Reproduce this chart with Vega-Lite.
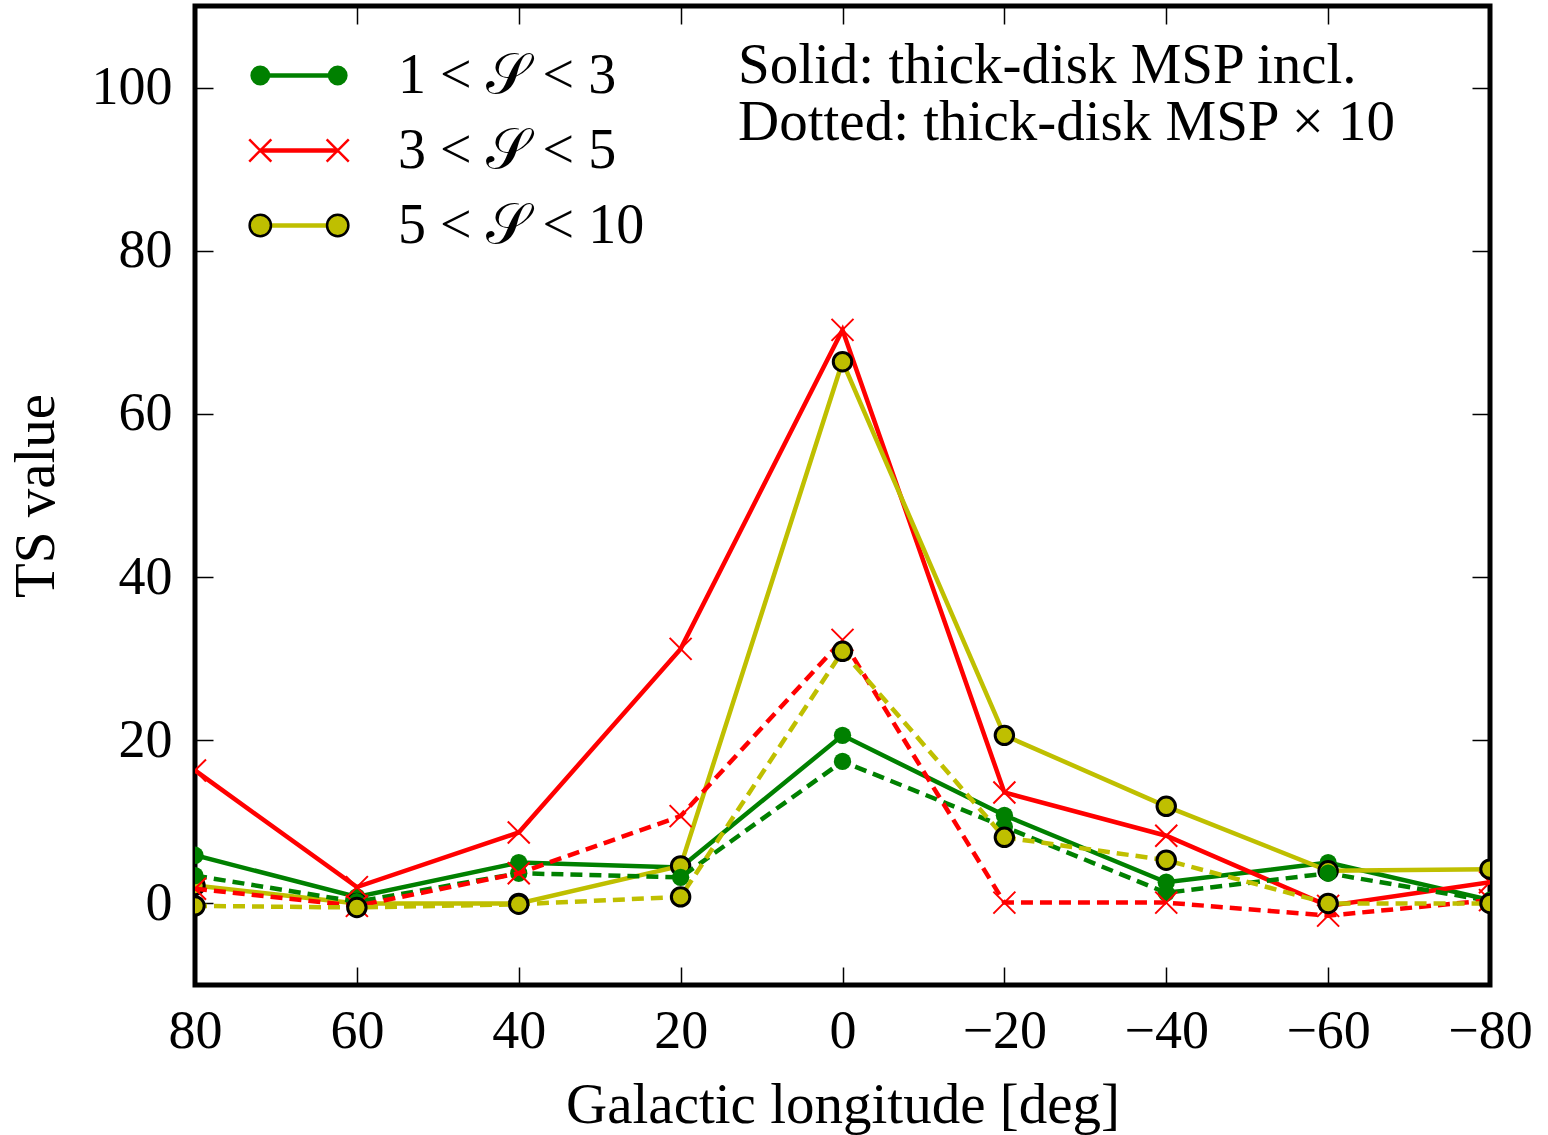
{
  "$schema": "https://vega.github.io/schema/vega-lite/v6.json",
  "width": 1295,
  "height": 979,
  "autosize": {"type": "none"},
  "padding": {"left": 195, "top": 6, "right": 58, "bottom": 150},
  "background": "white",
  "title": {"text": ["Solid: thick-disk MSP incl.", "Dotted: thick-disk MSP × 10"], "orient": "top", "anchor": "start", "frame": "group", "align": "left", "baseline": "top", "offset": 0, "dx": 543, "dy": 147, "font": "Liberation Serif", "fontSize": 57, "fontWeight": "normal", "lineHeight": 57, "color": "black"},
  "config": {
    "view": {"stroke": "black", "strokeWidth": 5},
    "font": "Liberation Serif",
    "axis": {"grid": false, "domain": false, "tickColor": "black", "tickWidth": 1.5, "tickSize": -18, "labelFont": "Liberation Serif", "labelFontSize": 54, "labelColor": "black", "titleFont": "Liberation Serif", "titleFontSize": 57, "titleFontWeight": "normal", "titleColor": "black", "labelFlush": false, "labelOverlap": false}
  },
  "data": {"values": [
    {"lon": 80, "ts": 5.9, "series": "1 < 𝒮 < 3", "kind": "solid"},
    {"lon": 60, "ts": 0.8, "series": "1 < 𝒮 < 3", "kind": "solid"},
    {"lon": 40, "ts": 5.0, "series": "1 < 𝒮 < 3", "kind": "solid"},
    {"lon": 20, "ts": 4.4, "series": "1 < 𝒮 < 3", "kind": "solid"},
    {"lon": 0, "ts": 20.6, "series": "1 < 𝒮 < 3", "kind": "solid"},
    {"lon": -20, "ts": 10.8, "series": "1 < 𝒮 < 3", "kind": "solid"},
    {"lon": -40, "ts": 2.6, "series": "1 < 𝒮 < 3", "kind": "solid"},
    {"lon": -60, "ts": 5.0, "series": "1 < 𝒮 < 3", "kind": "solid"},
    {"lon": -80, "ts": 0.4, "series": "1 < 𝒮 < 3", "kind": "solid"},
    {"lon": 80, "ts": 16.3, "series": "3 < 𝒮 < 5", "kind": "solid"},
    {"lon": 60, "ts": 2.0, "series": "3 < 𝒮 < 5", "kind": "solid"},
    {"lon": 40, "ts": 8.7, "series": "3 < 𝒮 < 5", "kind": "solid"},
    {"lon": 20, "ts": 31.2, "series": "3 < 𝒮 < 5", "kind": "solid"},
    {"lon": 0, "ts": 70.3, "series": "3 < 𝒮 < 5", "kind": "solid"},
    {"lon": -20, "ts": 13.6, "series": "3 < 𝒮 < 5", "kind": "solid"},
    {"lon": -40, "ts": 8.3, "series": "3 < 𝒮 < 5", "kind": "solid"},
    {"lon": -60, "ts": -0.3, "series": "3 < 𝒮 < 5", "kind": "solid"},
    {"lon": -80, "ts": 2.6, "series": "3 < 𝒮 < 5", "kind": "solid"},
    {"lon": 80, "ts": 2.2, "series": "5 < 𝒮 < 10", "kind": "solid"},
    {"lon": 60, "ts": 0.0, "series": "5 < 𝒮 < 10", "kind": "solid"},
    {"lon": 40, "ts": 0.0, "series": "5 < 𝒮 < 10", "kind": "solid"},
    {"lon": 20, "ts": 4.6, "series": "5 < 𝒮 < 10", "kind": "solid"},
    {"lon": 0, "ts": 66.4, "series": "5 < 𝒮 < 10", "kind": "solid"},
    {"lon": -20, "ts": 20.6, "series": "5 < 𝒮 < 10", "kind": "solid"},
    {"lon": -40, "ts": 11.9, "series": "5 < 𝒮 < 10", "kind": "solid"},
    {"lon": -60, "ts": 4.0, "series": "5 < 𝒮 < 10", "kind": "solid"},
    {"lon": -80, "ts": 4.2, "series": "5 < 𝒮 < 10", "kind": "solid"},
    {"lon": 80, "ts": 3.4, "series": "1 < 𝒮 < 3", "kind": "dotted"},
    {"lon": 60, "ts": 0.2, "series": "1 < 𝒮 < 3", "kind": "dotted"},
    {"lon": 40, "ts": 3.7, "series": "1 < 𝒮 < 3", "kind": "dotted"},
    {"lon": 20, "ts": 3.2, "series": "1 < 𝒮 < 3", "kind": "dotted"},
    {"lon": 0, "ts": 17.4, "series": "1 < 𝒮 < 3", "kind": "dotted"},
    {"lon": -20, "ts": 9.4, "series": "1 < 𝒮 < 3", "kind": "dotted"},
    {"lon": -40, "ts": 1.3, "series": "1 < 𝒮 < 3", "kind": "dotted"},
    {"lon": -60, "ts": 3.7, "series": "1 < 𝒮 < 3", "kind": "dotted"},
    {"lon": -80, "ts": 0.3, "series": "1 < 𝒮 < 3", "kind": "dotted"},
    {"lon": 80, "ts": 1.8, "series": "3 < 𝒮 < 5", "kind": "dotted"},
    {"lon": 60, "ts": -0.3, "series": "3 < 𝒮 < 5", "kind": "dotted"},
    {"lon": 40, "ts": 3.7, "series": "3 < 𝒮 < 5", "kind": "dotted"},
    {"lon": 20, "ts": 10.7, "series": "3 < 𝒮 < 5", "kind": "dotted"},
    {"lon": 0, "ts": 32.3, "series": "3 < 𝒮 < 5", "kind": "dotted"},
    {"lon": -20, "ts": 0.1, "series": "3 < 𝒮 < 5", "kind": "dotted"},
    {"lon": -40, "ts": 0.1, "series": "3 < 𝒮 < 5", "kind": "dotted"},
    {"lon": -60, "ts": -1.5, "series": "3 < 𝒮 < 5", "kind": "dotted"},
    {"lon": -80, "ts": 0.4, "series": "3 < 𝒮 < 5", "kind": "dotted"},
    {"lon": 80, "ts": -0.3, "series": "5 < 𝒮 < 10", "kind": "dotted"},
    {"lon": 60, "ts": -0.5, "series": "5 < 𝒮 < 10", "kind": "dotted"},
    {"lon": 40, "ts": -0.1, "series": "5 < 𝒮 < 10", "kind": "dotted"},
    {"lon": 20, "ts": 0.8, "series": "5 < 𝒮 < 10", "kind": "dotted"},
    {"lon": 0, "ts": 30.9, "series": "5 < 𝒮 < 10", "kind": "dotted"},
    {"lon": -20, "ts": 8.1, "series": "5 < 𝒮 < 10", "kind": "dotted"},
    {"lon": -40, "ts": 5.3, "series": "5 < 𝒮 < 10", "kind": "dotted"},
    {"lon": -60, "ts": 0.0, "series": "5 < 𝒮 < 10", "kind": "dotted"},
    {"lon": -80, "ts": 0.0, "series": "5 < 𝒮 < 10", "kind": "dotted"}
  ]},
  "encoding": {
    "x": {"field": "lon", "type": "quantitative", "scale": {"domain": [-80, 80], "reverse": true, "nice": false, "zero": false}, "axis": null},
    "y": {"field": "ts", "type": "quantitative", "scale": {"domain": [-10, 110], "nice": false, "zero": false}, "axis": null}
  },
  "resolve": {"axis": {"x": "independent", "y": "independent"}},
  "layer": [
    {
      "mark": {"type": "point", "opacity": 0},
      "encoding": {
        "x": {"field": "lon", "type": "quantitative", "scale": {"domain": [-80, 80], "reverse": true, "nice": false, "zero": false},
              "axis": {"orient": "bottom", "values": [80, 60, 40, 20, 0, -20, -40, -60, -80], "labelBaseline": "alphabetic", "labelPadding": 80, "title": "Galactic longitude [deg]", "titleY": 137, "titleBaseline": "alphabetic"}},
        "y": {"field": "ts", "type": "quantitative", "scale": {"domain": [-10, 110], "nice": false, "zero": false},
              "axis": {"orient": "left", "values": [0, 20, 40, 60, 80, 100], "labelBaseline": "middle", "labelPadding": 41, "title": "TS value", "titleX": -142, "titleY": 489.5, "titleAngle": -90, "titleBaseline": "alphabetic"}}
      }
    },
    {
      "mark": {"type": "point", "opacity": 0},
      "encoding": {
        "x": {"field": "lon", "type": "quantitative", "scale": {"domain": [-80, 80], "reverse": true, "nice": false, "zero": false},
              "axis": {"orient": "top", "values": [80, 60, 40, 20, 0, -20, -40, -60, -80], "labels": false, "title": null}},
        "y": {"field": "ts", "type": "quantitative", "scale": {"domain": [-10, 110], "nice": false, "zero": false},
              "axis": {"orient": "right", "values": [0, 20, 40, 60, 80, 100], "labels": false, "title": null}}
      }
    },
    {
      "transform": [{"filter": {"field": "series", "equal": "1 < 𝒮 < 3"}}, {"filter": {"field": "kind", "equal": "solid"}}],
      "layer": [
        {"mark": {"type": "line", "strokeWidth": 4.5, "clip": true},
         "encoding": {"color": {"field": "series", "type": "nominal", "scale": {"range": ["#008000", "#ff0000", "#bfbf00"]},
           "legend": {"orient": "none", "legendX": 63, "legendY": 28.5, "title": null, "symbolType": "stroke", "symbolSize": 5929, "symbolStrokeWidth": 4.5, "labelFont": "Liberation Serif", "labelFontSize": 56, "labelColor": "black", "labelOffset": 58, "labelLimit": 600, "padding": 0, "rowPadding": 6}}}},
        {"mark": {"type": "point", "filled": true, "fill": "#008000", "strokeWidth": 0, "size": 300, "opacity": 1, "clip": true}}
      ]
    },
    {
      "transform": [{"filter": {"field": "series", "equal": "3 < 𝒮 < 5"}}, {"filter": {"field": "kind", "equal": "solid"}}],
      "layer": [
        {"mark": {"type": "line", "strokeWidth": 4.5, "clip": true},
         "encoding": {"color": {"field": "series", "type": "nominal", "scale": {"range": ["#008000", "#ff0000", "#bfbf00"]}}}},
        {"mark": {"type": "point", "shape": "M-1,-1L1,1M-1,1L1,-1", "filled": false, "stroke": "#ff0000", "strokeWidth": 2, "size": 484, "opacity": 1, "clip": true}}
      ]
    },
    {
      "transform": [{"filter": {"field": "series", "equal": "5 < 𝒮 < 10"}}, {"filter": {"field": "kind", "equal": "solid"}}],
      "layer": [
        {"mark": {"type": "line", "strokeWidth": 4.5, "clip": true},
         "encoding": {"color": {"field": "series", "type": "nominal", "scale": {"range": ["#008000", "#ff0000", "#bfbf00"]}}}},
        {"mark": {"type": "point", "filled": true, "fill": "#bfbf00", "stroke": "black", "strokeWidth": 3, "size": 340, "opacity": 1, "clip": true}}
      ]
    },
    {
      "transform": [{"filter": {"field": "series", "equal": "1 < 𝒮 < 3"}}, {"filter": {"field": "kind", "equal": "dotted"}}],
      "layer": [
        {"mark": {"type": "line", "strokeWidth": 4.5, "strokeDash": [12, 7], "clip": true},
         "encoding": {"color": {"field": "series", "type": "nominal", "scale": {"range": ["#008000", "#ff0000", "#bfbf00"]}}}},
        {"mark": {"type": "point", "filled": true, "fill": "#008000", "strokeWidth": 0, "size": 300, "opacity": 1, "clip": true}}
      ]
    },
    {
      "transform": [{"filter": {"field": "series", "equal": "3 < 𝒮 < 5"}}, {"filter": {"field": "kind", "equal": "dotted"}}],
      "layer": [
        {"mark": {"type": "line", "strokeWidth": 4.5, "strokeDash": [12, 7], "clip": true},
         "encoding": {"color": {"field": "series", "type": "nominal", "scale": {"range": ["#008000", "#ff0000", "#bfbf00"]}}}},
        {"mark": {"type": "point", "shape": "M-1,-1L1,1M-1,1L1,-1", "filled": false, "stroke": "#ff0000", "strokeWidth": 2, "size": 484, "opacity": 1, "clip": true}}
      ]
    },
    {
      "transform": [{"filter": {"field": "series", "equal": "5 < 𝒮 < 10"}}, {"filter": {"field": "kind", "equal": "dotted"}}],
      "layer": [
        {"mark": {"type": "line", "strokeWidth": 4.5, "strokeDash": [12, 7], "clip": true},
         "encoding": {"color": {"field": "series", "type": "nominal", "scale": {"range": ["#008000", "#ff0000", "#bfbf00"]}}}},
        {"mark": {"type": "point", "filled": true, "fill": "#bfbf00", "stroke": "black", "strokeWidth": 3, "size": 340, "opacity": 1, "clip": true}}
      ]
    },
    {
      "transform": [{"filter": {"field": "ts", "gt": 1000}}],
      "mark": {"type": "point", "filled": true, "opacity": 1},
      "encoding": {
        "shape": {"field": "series", "type": "nominal",
          "scale": {"domain": ["1 < 𝒮 < 3", "3 < 𝒮 < 5", "5 < 𝒮 < 10"], "range": [
            "M-1.2,0A0.22,0.22 0 1,0 -0.76,0A0.22,0.22 0 1,0 -1.2,0ZM0.76,0A0.22,0.22 0 1,0 1.2,0A0.22,0.22 0 1,0 0.76,0Z",
            "M-1.26,-0.28L-0.7,0.28M-1.26,0.28L-0.7,-0.28M0.7,-0.28L1.26,0.28M0.7,0.28L1.26,-0.28",
            "M-1.25,0A0.27,0.27 0 1,0 -0.71,0A0.27,0.27 0 1,0 -1.25,0ZM0.71,0A0.27,0.27 0 1,0 1.25,0A0.27,0.27 0 1,0 0.71,0Z"]},
          "legend": {"orient": "none", "legendX": 63, "legendY": 28.5, "title": null, "symbolSize": 6241, "symbolStrokeWidth": 2.5, "labelFont": "Liberation Serif", "labelFontSize": 56, "labelColor": "rgba(0,0,0,0)", "labelOffset": 58, "labelLimit": 600, "padding": 0, "rowPadding": 6}},
        "fill": {"field": "series", "type": "nominal",
          "scale": {"domain": ["1 < 𝒮 < 3", "3 < 𝒮 < 5", "5 < 𝒮 < 10"], "range": ["#008000", "rgba(0,0,0,0)", "#bfbf00"]},
          "legend": {"orient": "none", "legendX": 63, "legendY": 28.5, "title": null, "symbolSize": 6241, "symbolStrokeWidth": 2.5, "labelFont": "Liberation Serif", "labelFontSize": 56, "labelColor": "rgba(0,0,0,0)", "labelOffset": 58, "labelLimit": 600, "padding": 0, "rowPadding": 6}},
        "stroke": {"field": "series", "type": "nominal",
          "scale": {"domain": ["1 < 𝒮 < 3", "3 < 𝒮 < 5", "5 < 𝒮 < 10"], "range": ["#008000", "#ff0000", "#000000"]},
          "legend": {"orient": "none", "legendX": 63, "legendY": 28.5, "title": null, "symbolSize": 6241, "symbolStrokeWidth": 2.5, "labelFont": "Liberation Serif", "labelFontSize": 56, "labelColor": "rgba(0,0,0,0)", "labelOffset": 58, "labelLimit": 600, "padding": 0, "rowPadding": 6}}
      }
    }
  ]
}
